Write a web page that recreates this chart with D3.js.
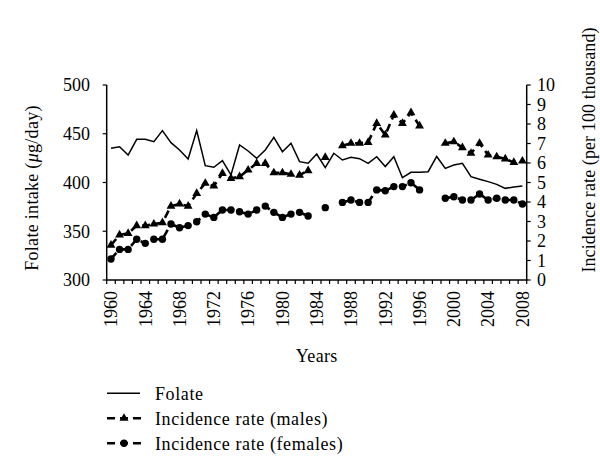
<!DOCTYPE html>
<html><head><meta charset="utf-8">
<script src="https://cdn.jsdelivr.net/npm/d3@7"></script>
<style>body{margin:0;background:#fff}svg{display:block}text{font-family:"Liberation Serif","DejaVu Serif",serif;fill:#000}</style>
</head><body>
<script>
const years = d3.range(1960, 2009);
const tickYears = [1960,1964,1968,1972,1976,1980,1984,1988,1992,1996,2000,2004,2008];
const folate = [435.1,436.7,428.2,444.3,444.3,441.9,453.2,440.9,433.3,424.1,453.2,417.3,415.6,422.4,407.7,438.5,432.3,424.8,433.3,446.3,431.6,440.2,421.4,419.7,429.2,415.2,430,423.1,425.8,424.4,419.7,426.5,416.4,426.5,404.9,410.4,410.4,411.1,426.7,414.5,418,419.7,406,403.3,400.9,398.1,394,395.4,396.4];
const males = [1.79,2.31,2.39,2.79,2.79,2.87,2.94,3.79,3.90,3.79,4.44,4.96,4.82,5.47,5.21,5.30,5.64,5.98,5.98,5.50,5.50,5.42,5.38,5.61,null,6.29,null,6.89,7.01,7.01,7.06,8.03,7.44,8.46,8.03,8.58,7.90,null,null,7.01,7.09,6.79,6.50,7.01,6.41,6.32,6.21,6.03,6.10];
const females = [1.08,1.57,1.57,2.09,1.88,2.09,2.09,2.87,2.68,2.79,2.99,3.38,3.21,3.59,3.59,3.50,3.38,3.59,3.79,3.47,3.21,3.38,3.47,3.28,null,3.71,null,3.98,4.10,3.98,3.98,4.62,4.58,4.79,4.79,4.99,4.62,null,null,4.19,4.27,4.10,4.10,4.41,4.10,4.19,4.10,4.10,3.90];
const leftTicks = [300,350,400,450,500];
const rightTicks = d3.range(0, 11);
const legendLabels = ["Folate","Incidence rate (males)","Incidence rate (females)"];

const W = 600, H = 476;
const x0 = 106.7, x1 = 526.7, yTop = 85, yBot = 280;
const svg = d3.select("body").append("svg").attr("width", W).attr("height", H);
const x = d3.scaleBand().domain(years).range([x0, x1]);
const yL = d3.scaleLinear().domain([300, 500]).range([yBot, yTop]);
const yR = d3.scaleLinear().domain([0, 10]).range([yBot, yTop]);
const cx = yr => x(yr) + x.bandwidth() / 2;
const FS = 18;

// axes
const g = svg.append("g");
g.append("line").attr("x1", x0).attr("x2", x0).attr("y1", yTop).attr("y2", yBot).attr("stroke", "#000").attr("stroke-width", 1.5);
g.append("line").attr("x1", x1).attr("x2", x1).attr("y1", yTop).attr("y2", yBot).attr("stroke", "#000").attr("stroke-width", 1.5);
g.append("line").attr("x1", x0 - 0.75).attr("x2", x1 + 0.75).attr("y1", yBot).attr("y2", yBot).attr("stroke", "#000").attr("stroke-width", 1.5);
leftTicks.forEach(v => {
  g.append("line").attr("x1", x0 - 4).attr("x2", x0).attr("y1", yL(v)).attr("y2", yL(v)).attr("stroke", "#000").attr("stroke-width", 1.2);
  g.append("text").attr("x", 90).attr("y", yL(v)).attr("dy", "0.35em").attr("text-anchor", "end").attr("font-size", FS).text(v);
});
rightTicks.forEach(v => {
  g.append("line").attr("x1", x1).attr("x2", x1 + 4).attr("y1", yR(v)).attr("y2", yR(v)).attr("stroke", "#000").attr("stroke-width", 1.2);
  g.append("text").attr("x", 537).attr("y", yR(v)).attr("dy", "0.35em").attr("text-anchor", "start").attr("font-size", FS).text(v);
});
years.concat([2009]).forEach((yr, i) => {
  const px = i < years.length ? x(yr) : x1;
  g.append("line").attr("x1", px).attr("x2", px).attr("y1", yBot).attr("y2", yBot + 4).attr("stroke", "#000").attr("stroke-width", 1.2);
});
tickYears.forEach(yr => {
  g.append("text").attr("transform", `translate(${cx(yr)},291) rotate(-90)`).attr("dy", "0.35em").attr("text-anchor", "end").attr("font-size", FS).text(yr);
});
svg.append("text").attr("x", (x0 + x1) / 2).attr("y", 362).attr("text-anchor", "middle").attr("font-size", FS).attr("letter-spacing", 0.3).text("Years");
const lt = svg.append("text").attr("transform", "translate(38,188) rotate(-90)").attr("text-anchor", "middle").attr("font-size", FS).attr("letter-spacing", 0.3);
lt.append("tspan").text("Folate intake (");
lt.append("tspan").attr("font-style", "italic").text("μ");
lt.append("tspan").text("g/day)");
svg.append("text").attr("transform", "translate(595,150) rotate(-90)").attr("text-anchor", "middle").attr("font-size", FS).attr("letter-spacing", 0.1).text("Incidence rate (per 100 thousand)");

// series
const idx = d3.range(years.length);
const folLine = d3.line().x(i => cx(years[i])).y(i => yL(folate[i]));
svg.append("path").attr("d", folLine(idx)).attr("fill", "none").attr("stroke", "#000").attr("stroke-width", 1.5);
const incLine = arr => d3.line().defined(i => arr[i] != null).x(i => cx(years[i])).y(i => yR(arr[i]));
[males, females].forEach(arr => {
  svg.append("path").attr("d", incLine(arr)(idx)).attr("fill", "none").attr("stroke", "#000").attr("stroke-width", 2.6).attr("stroke-dasharray", "8,5");
});
const tri = d3.symbol().type(d3.symbolTriangle).size(34);
idx.filter(i => males[i] != null).forEach(i => {
  svg.append("path").attr("d", tri()).attr("transform", `translate(${cx(years[i])},${yR(males[i])})`).attr("fill", "#000");
});
idx.filter(i => females[i] != null).forEach(i => {
  svg.append("circle").attr("cx", cx(years[i])).attr("cy", yR(females[i])).attr("r", 3.7).attr("fill", "#000");
});

// legend
const ly = [393.3, 418.3, 443.3];
svg.append("line").attr("x1", 107).attr("x2", 140).attr("y1", ly[0]).attr("y2", ly[0]).attr("stroke", "#000").attr("stroke-width", 1.5);
[1, 2].forEach(k => {
  svg.append("line").attr("x1", 107).attr("x2", 141).attr("y1", ly[k]).attr("y2", ly[k]).attr("stroke", "#000").attr("stroke-width", 2.6).attr("stroke-dasharray", "8,5");
});
svg.append("path").attr("d", tri()).attr("transform", `translate(124,${ly[1]})`).attr("fill", "#000");
svg.append("circle").attr("cx", 124).attr("cy", ly[2]).attr("r", 3.7).attr("fill", "#000");
legendLabels.forEach((t, k) => {
  svg.append("text").attr("x", 155).attr("y", ly[k]).attr("dy", "0.35em").attr("font-size", FS).attr("letter-spacing", 0.6).text(t);
});
</script>
</body></html>
